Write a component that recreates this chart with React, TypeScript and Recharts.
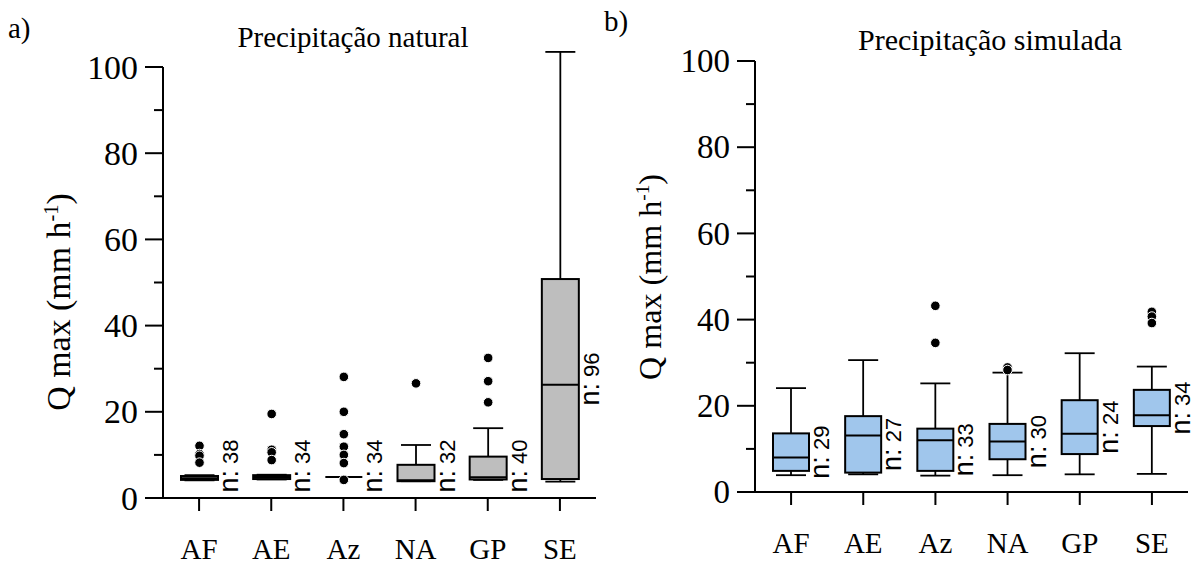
import React from "react";
import { Bar, ComposedChart, XAxis, YAxis } from "recharts";

const CATS = ["AF", "AE", "Az", "NA", "GP", "SE"];
const Y_TICKS = [0, 10, 20, 30, 40, 50, 60, 70, 80, 90, 100];
const Y_TOP = 100;

// Precipitação natural
const NAT_MIN = [4.1, 4.3, 4.9, 3.9, 4.2, 3.8];
const NAT_Q1 = [4.2, 4.4, 4.9, 3.9, 4.3, 4.4];
const NAT_MED = [4.6, 4.9, 4.9, 4.1, 4.8, 26.3];
const NAT_Q3 = [5.1, 5.3, 4.9, 7.7, 9.6, 50.8];
const NAT_MAX = [5.3, 5.4, 4.9, 12.3, 16.2, 103.5];
const NAT_N = [38, 34, 34, 32, 40, 96];
const NAT_OUT = [
  [12.1, 10.2, 9.8, 8.2],
  [19.5, 11.2, 10.6, 8.8],
  [28.1, 20.0, 14.8, 11.9, 10.0, 8.1, 4.2],
  [26.6],
  [32.5, 27.1, 22.2],
  [],
];

// Precipitação simulada
const SIM_MIN = [3.9, 4.1, 3.8, 3.9, 4.1, 4.2];
const SIM_Q1 = [4.9, 4.5, 4.9, 7.6, 8.8, 15.3];
const SIM_MED = [8.0, 13.1, 12.0, 11.7, 13.5, 17.8];
const SIM_Q3 = [13.6, 17.6, 14.7, 15.8, 21.3, 23.7];
const SIM_MAX = [24.1, 30.6, 25.2, 27.7, 32.2, 29.1];
const SIM_N = [29, 27, 33, 30, 24, 34];
const SIM_OUT = [[], [], [43.2, 34.6], [28.9, 28.3], [], [41.8, 40.7, 39.2]];

const SERIF = "Liberation Serif";
const SANS = "Liberation Sans";

type Row = {
  cat: string;
  min: number;
  q1: number;
  med: number;
  q3: number;
  max: number;
  n: number;
  out: number[];
};

function buildRows(mn: number[], q1: number[], md: number[], q3: number[], mx: number[], n: number[], out: number[][]): Row[] {
  return CATS.map((cat, i) => ({ cat, min: mn[i], q1: q1[i], med: md[i], q3: q3[i], max: mx[i], n: n[i], out: out[i] }));
}

const natural = buildRows(NAT_MIN, NAT_Q1, NAT_MED, NAT_Q3, NAT_MAX, NAT_N, NAT_OUT);
const simulated = buildRows(SIM_MIN, SIM_Q1, SIM_MED, SIM_Q3, SIM_MAX, SIM_N, SIM_OUT);

function BoxShape(props: any) {
  const { x, y, width, height, payload, boxFill } = props;
  const r: Row = payload;
  // the bar spans [0, Y_TOP], so values are placed through its pixel extent
  const py = (v: number) => y + (height * (Y_TOP - v)) / Y_TOP;
  const cx = x + width / 2;
  const cap = 30;
  const labelHalf = 31;
  const mid = py((r.q1 + r.q3) / 2);
  const cy = Math.min(mid, py(0) - labelHalf - 1);
  const lx = x + width + 20;
  return (
    <g>
      <line x1={cx} x2={cx} y1={py(r.max)} y2={py(r.q3)} stroke="#000" strokeWidth={1.8} />
      <line x1={cx} x2={cx} y1={py(r.q1)} y2={py(r.min)} stroke="#000" strokeWidth={1.8} />
      <line x1={cx - cap / 2} x2={cx + cap / 2} y1={py(r.max)} y2={py(r.max)} stroke="#000" strokeWidth={1.8} />
      <line x1={cx - cap / 2} x2={cx + cap / 2} y1={py(r.min)} y2={py(r.min)} stroke="#000" strokeWidth={1.8} />
      <rect x={x} y={py(r.q3)} width={width} height={Math.max(py(r.q1) - py(r.q3), 0)} fill={boxFill} stroke="#000" strokeWidth={2} />
      <line x1={x} x2={x + width} y1={py(r.med)} y2={py(r.med)} stroke="#000" strokeWidth={2} />
      {r.out.map((v, i) => (
        <circle key={i} cx={cx} cy={py(v)} r={4.8} fill="#000" stroke="#fff" strokeWidth={1} />
      ))}
      <text transform={`translate(${lx},${cy}) rotate(-90)`} textAnchor="middle" fontFamily={SANS} fill="#000">
        <tspan fontSize={27}>n:</tspan>
        <tspan fontSize={22}> {r.n}</tspan>
      </text>
    </g>
  );
}

// large serif text drawn at 30px and scaled up
function makeYTick(scale: number) {
  return function YTick(props: any) {
    const { x, y, payload } = props;
    const major = payload.value % 20 === 0;
    const len = major ? 18 : 9;
    return (
      <g>
        <line x1={x - len} x2={x} y1={y} y2={y} stroke="#000" strokeWidth={2} />
        {major && (
          <text
            transform={`translate(${x - 25},${y}) scale(${scale})`}
            dy="0.34em"
            textAnchor="end"
            fontSize={30}
            fontFamily={SERIF}
            fill="#000"
          >
            {payload.value}
          </text>
        )}
      </g>
    );
  };
}

const LeftTick = makeYTick(1.13);
const RightTick = makeYTick(1.1);

function Panel({ data, width, margin, fill, barSize, tick }: { data: Row[]; width: number; margin: any; fill: string; barSize: number; tick: any }) {
  return (
    <ComposedChart width={width} height={565} data={data} margin={margin}>
      <XAxis
        dataKey="cat"
        height={50}
        tickSize={13}
        tickMargin={27}
        axisLine={{ stroke: "#000", strokeWidth: 2 }}
        tickLine={{ stroke: "#000", strokeWidth: 2 }}
        tick={{ fontSize: 29, fill: "#000", fontFamily: SERIF }}
        interval={0}
      />
      <YAxis
        type="number"
        domain={[0, Y_TOP]}
        ticks={Y_TICKS}
        interval={0}
        width={60}
        tickSize={0}
        tickMargin={0}
        tickLine={false}
        axisLine={{ stroke: "#000", strokeWidth: 2 }}
        tick={tick}
      />
      <Bar
        dataKey={() => [0, Y_TOP]}
        barSize={barSize}
        isAnimationActive={false}
        shape={(p: any) => <BoxShape {...p} boxFill={fill} />}
      />
    </ComposedChart>
  );
}

export default function App() {
  return (
    <div style={{ position: "absolute", left: 0, top: 0, width: 1195, height: 565, background: "#fff" }}>
      <div style={{ position: "absolute", left: 0, top: 0 }}>
        <Panel data={natural} width={612} margin={{ top: 67, right: 16, bottom: 17, left: 103 }} fill="#bebebe" barSize={37} tick={<LeftTick />} />
      </div>
      <div style={{ position: "absolute", left: 612, top: 0 }}>
        <Panel data={simulated} width={583} margin={{ top: 61, right: 7, bottom: 23, left: 83 }} fill="#a0c6ec" barSize={36} tick={<RightTick />} />
      </div>
      <svg width={1195} height={565} style={{ position: "absolute", left: 0, top: 0, pointerEvents: "none" }}>
        <text x={8} y={38} fontSize={29} fontFamily={SERIF} fill="#000">a)</text>
        <text x={604} y={31} fontSize={29} fontFamily={SERIF} fill="#000">b)</text>
        <text x={353} y={47} fontSize={29} textAnchor="middle" fontFamily={SERIF} fill="#000">Precipitação natural</text>
        <text x={990} y={50} fontSize={30} textAnchor="middle" fontFamily={SERIF} fill="#000">Precipitação simulada</text>
        <text transform="translate(70,302) rotate(-90) scale(1.13)" textAnchor="middle" fontSize={30} fontFamily={SERIF} fill="#000">
          Q max (mm h<tspan fontSize={18} dy={-11}>-1</tspan><tspan dy={11}>)</tspan>
        </text>
        <text transform="translate(661,277) rotate(-90) scale(1.07)" textAnchor="middle" fontSize={30} fontFamily={SERIF} fill="#000">
          Q max (mm h<tspan fontSize={18} dy={-11}>-1</tspan><tspan dy={11}>)</tspan>
        </text>
      </svg>
    </div>
  );
}
